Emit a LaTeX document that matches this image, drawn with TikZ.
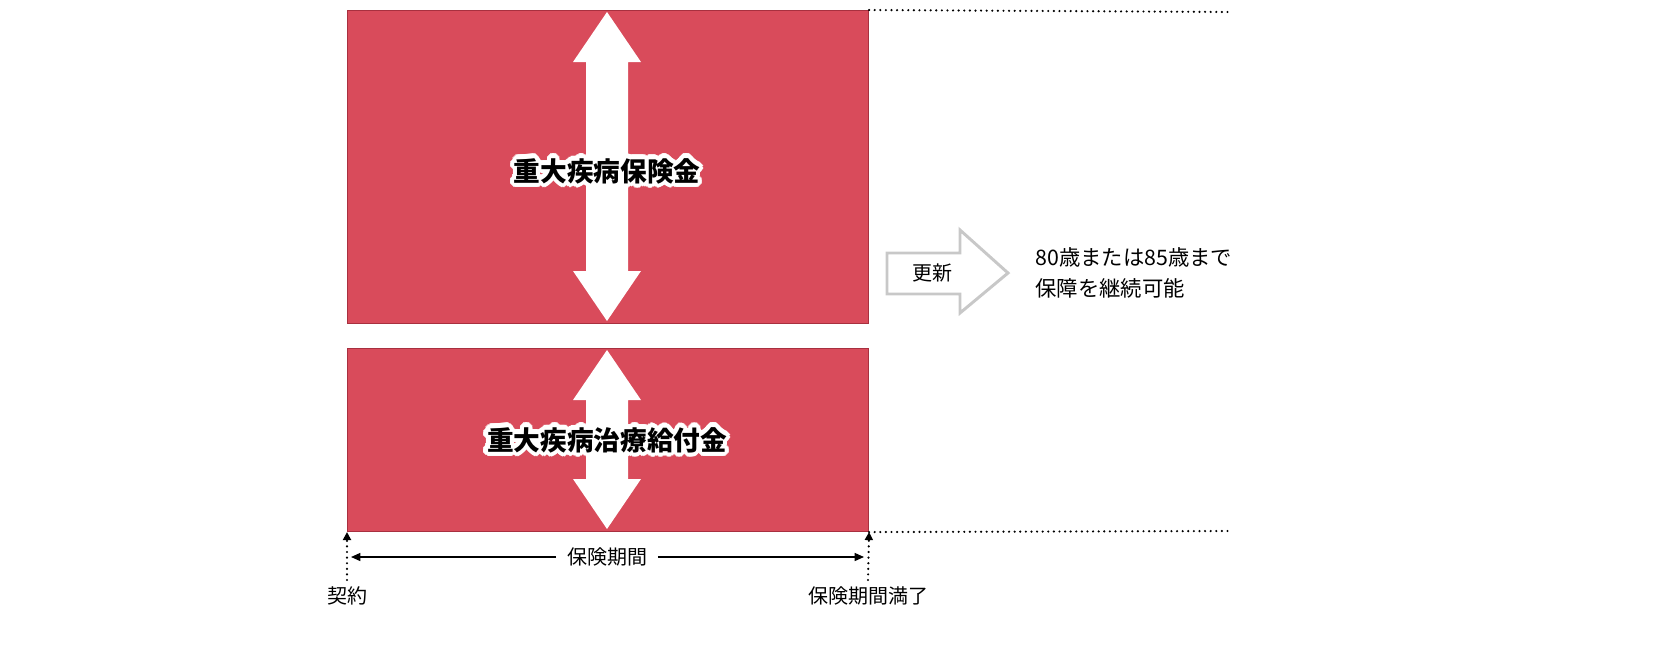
\documentclass[tikz,border=0pt]{standalone}
\usepackage{fontspec}
\setmainfont{Noto Sans CJK JP}
\usetikzlibrary{arrows.meta,calc}
\definecolor{boxred}{HTML}{D94B5B}
\definecolor{boxedge}{HTML}{A8303F}
\definecolor{grayarr}{HTML}{C8C8C8}
\tikzset{
 box/.style={fill=boxred,draw=boxedge,line width=0.8pt},
 dbl/.style={fill=white,draw=none},
 dots/.style={line width=1.8pt,line cap=round,dash pattern=on 0pt off 4.2pt},
 lbl/.style={font=\fontsize{15}{18}\selectfont,inner sep=1pt},
 bigtxt/.style={font=\bfseries\fontsize{20}{24}\selectfont},
}
\newcommand{\halotext}[3]{%
 \foreach \ang in {0,20,...,340}{
  \node[text=white,bigtxt] at ($(#1)+(\ang:3.2pt)$) {#3};
  \node[text=white,bigtxt] at ($(#1)+(\ang:1.8pt)$) {#3};}
 \node[bigtxt] (#2) at (#1) {#3};}
\begin{document}
\begin{tikzpicture}[x=0.75pt,y=-0.75pt]
\useasboundingbox (0,0) rectangle (1660,650);
\node[box,minimum width=521*0.75pt,minimum height=313*0.75pt,inner sep=0,anchor=north west] (top) at (347,10) {};
\node[box,minimum width=521*0.75pt,minimum height=183*0.75pt,inner sep=0,anchor=north west] (bot) at (347,348) {};
% double arrows
\fill[dbl] (607,12) -- (641,62) -- (628,62) -- (628,271) -- (641,271) -- (607,321) -- (573,271) -- (586,271) -- (586,62) -- (573,62) -- cycle;
\fill[dbl] (607,350) -- (641,400) -- (628,400) -- (628,479) -- (641,479) -- (607,529) -- (573,479) -- (586,479) -- (586,400) -- (573,400) -- cycle;
\coordinate (c1) at (607,171);
\coordinate (c2) at (607,440);
\halotext{c1}{t1}{重大疾病保険金}
\halotext{c2}{t2}{重大疾病治療給付金}
% dotted extensions
\coordinate (e1) at (1230,12);
\coordinate (e2) at (1230,531);
\draw[dots] (top.north east) -- (e1);
\draw[dots] (bot.south east) -- (e2);
% timeline
\node[lbl] (k) at (347,596) {契約};
\node[lbl] (m) at (868,596) {保険期間満了};
\coordinate (ka) at (347,580);
\coordinate (ma) at (868,580);
\draw[dots,-{Triangle[width=6pt,length=6pt]}] (ka) -- (bot.south west);
\draw[dots,-{Triangle[width=6pt,length=6pt]}] (ma) -- (bot.south east);
\node[lbl,fill=white,inner xsep=8pt] (p) at (607,557) {保険期間};
\draw[-{Triangle[width=6pt,length=7pt]},line width=1pt] (p.west) -- (351,557);
\draw[-{Triangle[width=6pt,length=7pt]},line width=1pt] (p.east) -- (864,557);
% renewal arrow
\draw[grayarr,line width=2.2pt,fill=white,line join=miter] (887,253) -- (960,253) -- (960,230) -- (1008,273) -- (960,313) -- (960,294) -- (887,294) -- cycle;
\node[lbl] (r) at (932,273) {更新};
\node[lbl,anchor=west,align=left,font=\fontsize{16}{23}\selectfont] (note) at (1034,273) {80歳または85歳まで\\保障を継続可能};
\end{tikzpicture}
\end{document}
